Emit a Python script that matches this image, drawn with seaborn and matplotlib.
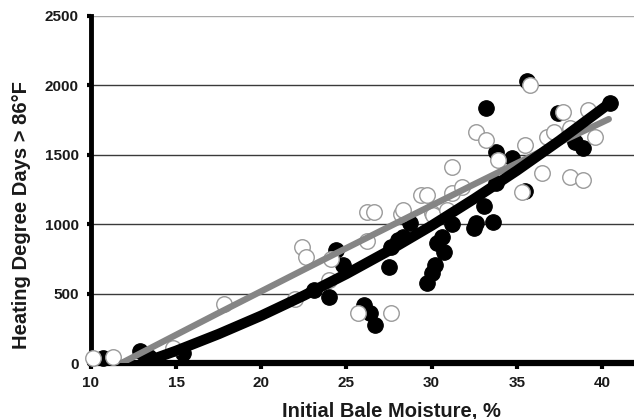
import numpy as np
import pandas as pd
import matplotlib
matplotlib.use("Agg")
import matplotlib.pyplot as plt
import seaborn as sns

# Bales with treatment (filled) and without (open)
moisture_filled = [10.7, 12.9, 13.4, 15.4, 23.1, 24.0, 24.4, 24.8, 26.0, 26.4,
                   26.7, 27.5, 27.6, 28.0, 28.3, 28.7, 29.75, 30.0, 30.2, 30.3,
                   30.6, 30.75, 31.2, 32.5, 32.6, 33.1, 33.6, 33.2, 33.8, 33.8,
                   34.7, 35.5, 35.6, 37.4, 38.4, 38.9, 40.5]
hdd_filled = [36, 90, 45, 72, 527, 476, 815, 707, 418, 360,
              274, 690, 837, 887, 910, 1010, 577, 650, 707, 866,
              910, 801, 1000, 974, 1010, 1130, 1017, 1840, 1522, 1299,
              1479, 1240, 2030, 1804, 1594, 1551, 1876]

moisture_open = [10.1, 11.3, 14.8, 17.8, 22.0, 22.4, 22.6, 24.0, 24.1, 25.7,
                 26.2, 26.2, 26.6, 27.6, 28.2, 28.3, 29.4, 29.75, 30.0, 30.05,
                 30.9, 31.2, 31.2, 31.8, 32.6, 33.2, 33.9, 35.3, 35.5, 35.8,
                 36.5, 36.8, 37.2, 37.7, 38.1, 38.1, 38.9, 39.2, 39.6]
hdd_open = [36, 43, 110, 425, 460, 837, 765, 600, 750, 360,
            880, 1085, 1085, 360, 1075, 1104, 1212, 1212, 1082, 1068,
            1104, 1227, 1414, 1270, 1667, 1609, 1465, 1234, 1573, 2006,
            1371, 1630, 1667, 1811, 1696, 1342, 1320, 1825, 1630]

# Trend curves
trend_black_x = [13.0, 15.0, 17.5, 20.0, 22.5, 25.0, 27.5, 30.0, 32.5, 35.0, 37.5, 40.5]
trend_black_y = [0, 88, 209, 341, 486, 642, 810, 990, 1183, 1386, 1602, 1876]
trend_gray_x = [11.8, 15.0, 17.5, 20.0, 22.5, 25.0, 27.5, 30.0, 32.5, 35.0, 37.5, 40.4]
trend_gray_y = [0, 203, 361, 517, 673, 828, 982, 1135, 1288, 1439, 1589, 1757]

x_ticks = [10, 15, 20, 25, 30, 35, 40]
y_ticks = [0, 500, 1000, 1500, 2000, 2500]

sns.set_theme(style="white")
plt.rcParams["font.family"] = ["Liberation Sans", "DejaVu Sans"]

fig = plt.figure(figsize=(6.34, 4.19), dpi=100)
ax = fig.add_axes([91 / 634, 1 - 363 / 419, 1 - 91 / 634, (363 - 16) / 419])

df_filled = pd.DataFrame({"m": moisture_filled, "h": hdd_filled})
df_open = pd.DataFrame({"m": moisture_open, "h": hdd_open})

sns.scatterplot(data=df_filled, x="m", y="h", ax=ax, s=125, color="black",
                edgecolor="black", linewidth=0.8, zorder=3, clip_on=False)
sns.scatterplot(data=df_open, x="m", y="h", ax=ax, s=125, color="white",
                edgecolor="#9a9a9a", linewidth=1.0, zorder=4, clip_on=False)

sns.lineplot(x=trend_gray_x, y=trend_gray_y, ax=ax, color="#858585", lw=4.6,
             zorder=5, sort=False)
sns.lineplot(x=trend_black_x, y=trend_black_y, ax=ax, color="black", lw=7.5,
             zorder=6, sort=False, solid_capstyle="round")

ax.set_xlim(10, 41.88)
ax.set_ylim(0, 2500)
ax.set_xticks(x_ticks)
ax.set_yticks(y_ticks)

ax.grid(axis="y", color="#3a3a3a", lw=1.0)
ax.get_ygridlines()[-1].set_color("#a8a8a8")
ax.set_axisbelow(True)

for side in ("top", "right"):
    ax.spines[side].set_visible(False)
ax.spines["left"].set_linewidth(3.5)
ax.spines["bottom"].set_linewidth(4.5)
ax.spines["left"].set_color("black")
ax.spines["bottom"].set_color("black")
ax.spines["left"].set_zorder(2.5)
ax.spines["bottom"].set_zorder(2.5)

ax.tick_params(axis="y", direction="out", length=3, width=3, color="black",
               left=True, pad=6, labelsize=11, labelcolor="#1a1a1a")
ax.tick_params(axis="x", direction="out", length=4, width=3, color="black",
               bottom=True, pad=5, labelsize=11, labelcolor="#1a1a1a")
for lbl in ax.get_xticklabels() + ax.get_yticklabels():
    lbl.set_fontweight("bold")

ax.set_xlabel("Initial Bale Moisture, %", fontsize=14.5, fontweight="bold",
              color="#1a1a1a")
ax.set_ylabel("Heating Degree Days > 86°F", fontsize=14.5, fontweight="bold",
              color="#1a1a1a")
ax.xaxis.set_label_coords((391 - 91) / (634 - 91), -(411 - 363) / (363 - 16))
ax.yaxis.set_label_coords(-(91 - 22) / (634 - 91), (363 - 215) / (363 - 16))
ax.xaxis.label.set_va("center")
ax.yaxis.label.set_va("center")

fig.savefig("out.png", dpi=100)
